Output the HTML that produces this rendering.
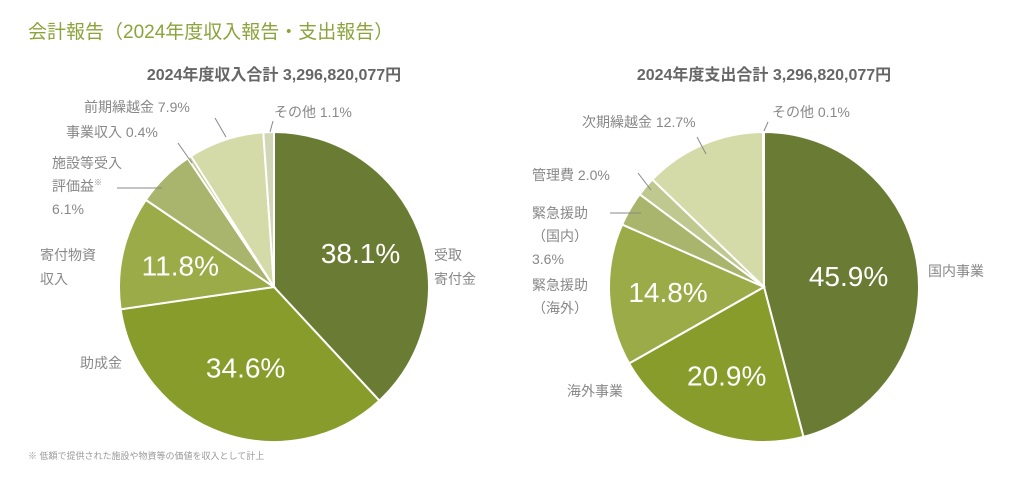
<!DOCTYPE html>
<html lang="ja"><head><meta charset="utf-8">
<style>
html,body{margin:0;padding:0;background:#fff;}
body{width:1024px;height:480px;overflow:hidden;font-family:"Liberation Sans","Noto Sans CJK JP",sans-serif;}
svg{display:block}
</style></head>
<body>
<svg id="chart" width="1024" height="480" viewBox="0 0 1024 480">
<text x="28" y="38" font-size="19" fill="#8aa33a">会計報告（2024年度収入報告・支出報告）</text>
<text x="274" y="80" font-size="16" font-weight="bold" fill="#666" text-anchor="middle">2024年度収入合計  3,296,820,077円</text>
<text x="764" y="80" font-size="16" font-weight="bold" fill="#666" text-anchor="middle">2024年度支出合計  3,296,820,077円</text>
<g id="pieL"></g>
<g id="pieR"></g>
<g font-size="14" fill="#888">
<text x="84" y="112">前期繰越金 7.9%</text>
<text x="66" y="137">事業収入 0.4%</text>
<text x="52" y="168">施設等受入</text>
<text x="52" y="191">評価益<tspan font-size="8" dy="-6">※</tspan></text>
<text x="52" y="214">6.1%</text>
<text x="40" y="260">寄付物資</text>
<text x="40" y="284">収入</text>
<text x="80" y="368">助成金</text>
<text x="434" y="260">受取</text>
<text x="434" y="284">寄付金</text>
<text x="274" y="117">その他 1.1%</text>
</g>
<g stroke="#888" stroke-width="1" fill="none">
<line x1="215" y1="118" x2="226" y2="137"/>
<line x1="178" y1="143" x2="192" y2="163"/>
<line x1="117" y1="188" x2="162" y2="188"/>
<line x1="273" y1="121" x2="270" y2="132"/>
</g>
<g font-size="14" fill="#888">
<text x="582" y="127">次期繰越金 12.7%</text>
<text x="532" y="180">管理費 2.0%</text>
<text x="532" y="218">緊急援助</text>
<text x="532" y="241">（国内）</text>
<text x="532" y="264">3.6%</text>
<text x="532" y="290">緊急援助</text>
<text x="532" y="313">（海外）</text>
<text x="567" y="396">海外事業</text>
<text x="928" y="276">国内事業</text>
<text x="772" y="117">その他 0.1%</text>
</g>
<g stroke="#888" stroke-width="1" fill="none">
<line x1="697" y1="137" x2="706" y2="154"/>
<line x1="638" y1="173" x2="651" y2="190"/>
<line x1="610" y1="213" x2="641" y2="213"/>
<line x1="768" y1="122" x2="764" y2="131"/>
</g>
<text x="28" y="459" font-size="9" fill="#999">※ 低額で提供された施設や物資等の価値を収入として計上</text>
</svg>
<script>
const incomeCategories = ["受取寄付金","助成金","寄付物資収入","施設等受入評価益","事業収入","前期繰越金","その他"];
const incomeValues = [38.1,34.6,11.8,6.1,0.4,7.9,1.1];
const incomeShown = ["38.1%","34.6%","11.8%","","","",""];
const expenseCategories = ["国内事業","海外事業","緊急援助(海外)","緊急援助(国内)","管理費","次期繰越金","その他"];
const expenseValues = [45.9,20.9,14.8,3.6,2.0,12.7,0.1];
const expenseShown = ["45.9%","20.9%","14.8%","","","",""];
const colors = ["#6a7b33","#879c2b","#9aab48","#a9b46c","#bfc88f","#d5dba8","#d0d6b6"];
const NS = "http://www.w3.org/2000/svg";
function drawPie(gid, cx, cy, r, vals, shown, names, lblR){
  const g = document.getElementById(gid);
  const total = vals.reduce((a,b)=>a+b,0);
  let a0 = 0;
  vals.forEach((v,i)=>{
    const a1 = a0 + v/total*Math.PI*2;
    const p = (a)=>[cx + r*Math.sin(a), cy - r*Math.cos(a)];
    const [x0,y0]=p(a0),[x1,y1]=p(a1);
    const path = document.createElementNS(NS,"path");
    path.setAttribute("d",`M${cx},${cy} L${x0},${y0} A${r},${r} 0 ${a1-a0>Math.PI?1:0} 1 ${x1},${y1} Z`);
    path.setAttribute("fill",colors[i]);
    path.setAttribute("stroke","#fff");
    path.setAttribute("stroke-width","2");
    
    
    g.appendChild(path);
    if(shown[i]){
      const m=(a0+a1)/2, lr=r*lblR[i];
      const t=document.createElementNS(NS,"text");
      t.setAttribute("x",cx+lr*Math.sin(m));
      t.setAttribute("y",cy-lr*Math.cos(m)+10);
      t.setAttribute("text-anchor","middle");
      t.setAttribute("font-size","28");
      t.setAttribute("fill","#fff");
      t.textContent=shown[i];
      
      
      g.appendChild(t);
    }
    a0=a1;
  });
}
drawPie("pieL",274,287,155,incomeValues,incomeShown,incomeCategories,[0.6,0.55,0.62]);
drawPie("pieR",764,287,155,expenseValues,expenseShown,expenseCategories,[0.55,0.62,0.62]);
</script>
</body></html>
